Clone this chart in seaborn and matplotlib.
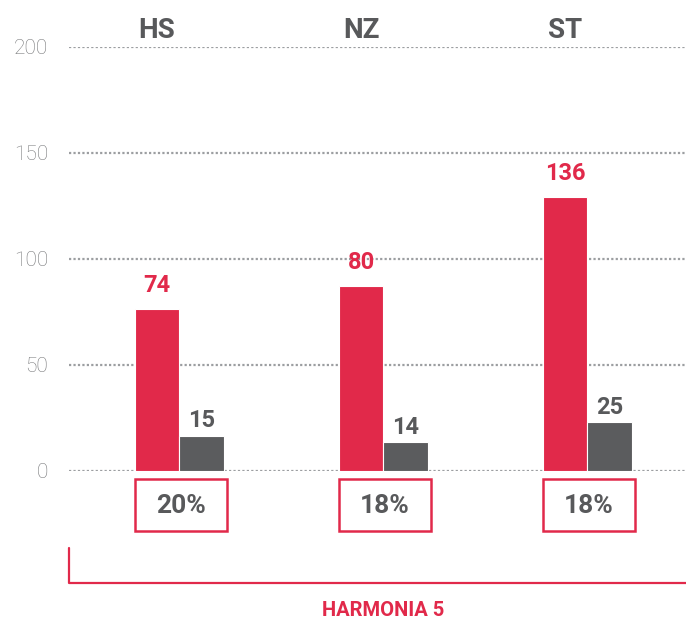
import matplotlib
matplotlib.use("Agg")
import matplotlib.pyplot as plt
import matplotlib.transforms as mtransforms
from matplotlib.patches import Rectangle
from matplotlib.lines import Line2D
import seaborn as sns
import pandas as pd

# ------------------------------------------------------------------
# DATA
# ------------------------------------------------------------------
groups = ["HS", "NZ", "ST"]
series = ["total", "part"]
total_heights = [76.4, 87.1, 129.1]
part_heights = [16.5, 13.5, 23.0]
total_labels = ["74", "80", "136"]
part_labels = ["15", "14", "25"]
share_labels = ["20%", "18%", "18%"]
y_ticks = [0, 50, 100, 150, 200]
footer = "HARMONIA 5"

RED = "#E1294A"
GRAY = "#5B5C5E"
TEXT_GRAY = "#58595B"
TICK_GRAY = "#77787A"
GRID_GRAY = "#9C9EA1"

df = pd.DataFrame({
    "group": groups * 2,
    "series": [series[0]] * 3 + [series[1]] * 3,
    "value": total_heights + part_heights,
})

# ------------------------------------------------------------------
# FIGURE
# ------------------------------------------------------------------
sns.set_theme(style="white")
plt.rcParams["font.family"] = ["Roboto", "DejaVu Sans"]

W, H = 686, 620
fig = plt.figure(figsize=(W / 100, H / 100), dpi=100)
y0_px, y200_px, x0_px = 470.7, 47.0, 69.0
ax = fig.add_axes([x0_px / W, 1 - y0_px / H, (W - x0_px) / W, (y0_px - y200_px) / H])

sns.barplot(data=df, x="group", y="value", hue="series", hue_order=series,
            palette=[RED, GRAY], saturation=1, width=0.44, gap=0,
            edgecolor="white", linewidth=0.8, legend=False, ax=ax, zorder=3)

ax.set_xlim(-0.5417, 2.483)
ax.set_ylim(0, 200)
ax.set_yticks(y_ticks)
ax.set_yticklabels([str(t) for t in y_ticks], fontsize=15, fontweight="light",
                   color=TICK_GRAY)
ax.tick_params(axis="y", length=0, pad=15)
ax.set_xticks([])
ax.set_xlabel("")
ax.set_ylabel("")
for s in ax.spines.values():
    s.set_visible(False)

ax.set_axisbelow(True)
ax.yaxis.grid(True, color=GRID_GRAY, linestyle=(0, (1, 1)), linewidth=1.6)
ax.xaxis.grid(False)

# value labels
ax.bar_label(ax.containers[0], labels=total_labels, padding=8.5,
             fontsize=17, fontweight="bold", color=RED)
ax.bar_label(ax.containers[1], labels=part_labels, padding=2.5,
             fontsize=17, fontweight="bold", color=TEXT_GRAY)

trans = mtransforms.blended_transform_factory(ax.transData, ax.transAxes)
for i, g in enumerate(groups):
    # category name above the red bar
    ax.text(i - 0.11, 1.0212, g, transform=trans, ha="center", va="baseline",
            fontsize=20, fontweight="bold", color=TEXT_GRAY, clip_on=False)
    # share box under the pair
    ax.add_patch(Rectangle((i - 0.22, -0.1423), 0.455, 0.1227, transform=trans,
                           facecolor="white", edgecolor=RED, linewidth=1.8,
                           clip_on=False))
    ax.text(i + 0.008, -0.0998, share_labels[i], transform=trans, ha="center",
            va="baseline", fontsize=19, fontweight="bold", color=TEXT_GRAY,
            clip_on=False)

# bracket + footer label
fig.add_artist(Line2D([x0_px / W, x0_px / W, 1.0],
                      [1 - 548 / H, 1 - 583 / H, 1 - 583 / H],
                      color=RED, linewidth=1.6))
fig.text(383 / W, 1 - 616 / H, footer, ha="center", va="baseline",
         fontsize=14.5, fontweight="bold", color=RED)

fig.savefig("out.png", dpi=100)
plt.close(fig)
